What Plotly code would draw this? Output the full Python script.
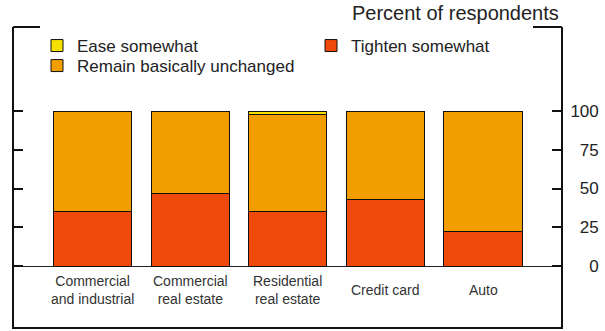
import plotly.graph_objects as go

categories = ["Commercial<br>and industrial", "Commercial<br>real estate",
              "Residential<br>real estate", "Credit card", "Auto"]
cat_keys = ["C&I", "CRE", "RRE", "Credit card", "Auto"]
tighten = [35, 47, 35, 43, 22]
remain = [65, 53, 63, 57, 78]
ease = [0, 0, 2, 0, 0]
tick_vals = [0, 25, 50, 75, 100]
tick_text = ["\u2007\u20070", "\u200725", "\u200750", "\u200775", "100"]

C_TIGHT = "#F04A0A"
C_REMAIN = "#F29E00"
C_EASE = "#F5E000"

W, H = 605, 331
L, R, T, B = 14, 561, 27, 327  # plot box in px
PW, PH = R - L, B - T
Y0, Y100 = 266, 111
ppu = (Y0 - Y100) / 100.0
y_top = (Y0 - T) / ppu
y_bot = (Y0 - B) / ppu


def px2x(px):
    return (px - L) / PW


def px2y(py):
    return (B - py) / PH


font = "Liberation Sans, Arial, Helvetica, sans-serif"
line_style = dict(color="#111", width=1)

fig = go.Figure()
fig.add_trace(go.Bar(x=cat_keys, y=tighten, name="Tighten somewhat",
                     marker=dict(color=C_TIGHT, line=line_style), legend="legend3", width=0.8))
fig.add_trace(go.Bar(x=cat_keys, y=remain, name="Remain basically unchanged",
                     marker=dict(color=C_REMAIN, line=line_style), legend="legend2", width=0.8))
fig.add_trace(go.Bar(x=cat_keys, y=ease, name="Ease somewhat",
                     marker=dict(color=C_EASE, line=line_style), legend="legend", width=0.8))
# invisible trace to carry the right axis
fig.add_trace(go.Scatter(x=cat_keys, y=[None] * 5, yaxis="y2", showlegend=False, hoverinfo="skip"))

leg_common = dict(font=dict(size=17, color="#222", family=font), bgcolor="rgba(0,0,0,0)",
                  xanchor="left", yanchor="top", borderwidth=0)

fig.update_layout(
    width=W, height=H,
    margin=dict(l=L, r=W - R, t=T, b=H - B, pad=0, autoexpand=False),
    paper_bgcolor="white", plot_bgcolor="white",
    barmode="stack", bargap=0.2,
    font=dict(family=font, color="#222"),
    xaxis=dict(range=[-0.81, 4.8], showticklabels=False, ticks="", showgrid=False,
               showline=True, linecolor="#111", linewidth=2, zeroline=False,
               categoryorder="array", categoryarray=cat_keys, fixedrange=True),
    yaxis=dict(range=[y_bot, y_top], tickvals=tick_vals, showticklabels=False,
               ticks="inside", ticklen=9, tickwidth=1.5, tickcolor="#111",
               showline=True, linecolor="#111", linewidth=2, showgrid=False,
               zeroline=True, zerolinecolor="#222", zerolinewidth=1),
    yaxis2=dict(range=[y_bot, y_top], overlaying="y", side="right", tickvals=tick_vals,
                ticktext=tick_text, ticks="inside", ticklen=9, tickwidth=1.5, tickcolor="#111",
                showline=True, linecolor="#111", linewidth=2, showgrid=False, zeroline=False,
                tickfont=dict(size=17, color="#222", family=font), ticklabelstandoff=4),
    legend=dict(x=px2x(37), y=px2y(28), **leg_common),
    legend2=dict(x=px2x(37), y=px2y(48), **leg_common),
    legend3=dict(x=px2x(311), y=px2y(28), **leg_common),
    showlegend=True,
)

# top bracket pieces of the frame
fig.add_shape(type="line", xref="paper", yref="paper", x0=-0.0015, x1=px2x(40), y0=1, y1=1,
              line=dict(color="#111", width=2))
fig.add_shape(type="line", xref="paper", yref="paper", x0=px2x(533), x1=1.0015, y0=1, y1=1,
              line=dict(color="#111", width=2))

# unit label
fig.add_annotation(text="Percent of respondents", xref="paper", yref="paper", x=1, y=px2y(13),
                   xanchor="right", yanchor="middle", showarrow=False,
                   font=dict(size=20, color="#222", family=font))

# category labels inside the frame, below the zero line
for key, lab in zip(cat_keys, categories):
    fig.add_annotation(text=lab, x=key, y=(Y0 - 290) / ppu, xref="x", yref="y",
                       showarrow=False, xanchor="center", yanchor="middle",
                       font=dict(size=14, color="#333", family=font))

fig.write_html("out.html", config={"displayModeBar": False},
               post_script="document.body.style.margin='0';")
